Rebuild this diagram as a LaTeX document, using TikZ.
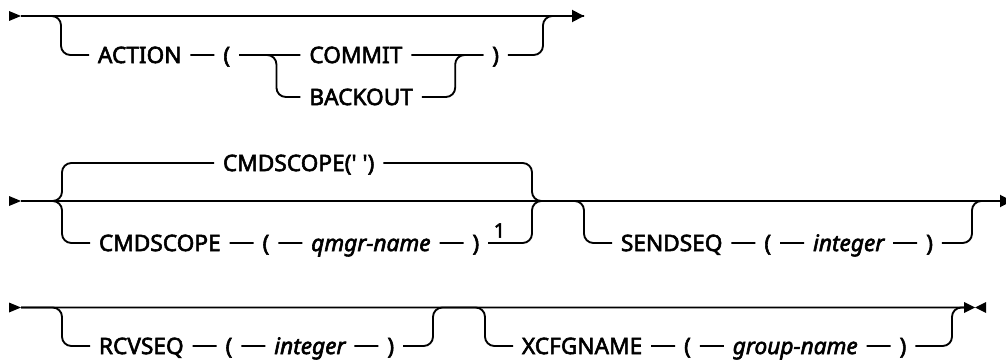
\documentclass[tikz,border=0pt]{standalone}
\usepackage{fontspec}
\setmainfont{Noto Sans}[FakeBold=2.5]
\usetikzlibrary{positioning,arrows.meta}

\tikzset{
  rail/.style={line width=1.4pt, rounded corners=7pt},
  kw/.style={inner xsep=6.5pt, inner ysep=0pt, text height=12.1pt, text depth=0pt,
    font=\fontsize{17pt}{20pt}\selectfont},
  var/.style={kw, font=\fontsize{17pt}{20pt}\selectfont\itshape},
  note/.style={inner sep=0pt, font=\fontsize{15pt}{18pt}\selectfont},
  tip/.style={-{Triangle[length=9pt, width=9pt]}}
}

\begin{document}
\begin{tikzpicture}[x=0.75pt, y=-0.75pt, node distance=18pt]
  \useasboundingbox (0,0) rectangle (1006,360);
  \foreach \y in {16,201,307.5} \fill (9,\y-5) -- (21,\y) -- (9,\y+5) -- cycle;

  % ACTION
  \coordinate (r1in) at (21,16);
  \coordinate (r1out) at (584,16);
  \coordinate (m1) at (543,16);
  \node[kw, anchor=west] (action) at (89,55) {ACTION};
  \node[kw, right=of action] (lp1) {(};
  \node[kw, right=46pt of lp1] (commit) {COMMIT};
  \node[kw, below=31.5pt of commit.west, anchor=west] (backout) {BACKOUT};
  \node[kw, right=54pt of commit] (rp1) {)};
  \coordinate[left=21pt of action] (o1);
  \coordinate[right=28pt of lp1] (s1);
  \coordinate[right=25pt of backout] (j1);
  \draw[rail, tip] (r1in) -- (r1out);
  \draw[rail] (r1in) -| (o1) -- (action);
  \draw[rail] (action) -- (lp1) -- (commit) -- (rp1) -| (m1) -- (r1out);
  \draw[rail] (lp1) -| (s1 |- backout) -- (backout);
  \draw[rail] (backout) -| (j1 |- commit) -- (rp1);

  % CMDSCOPE, SENDSEQ
  \coordinate (r2in) at (21,201);
  \coordinate (r2out) at (1012,201);
  \coordinate (m2) at (532,201);
  \coordinate (k2) at (548,201);
  \coordinate (m3) at (972,201);
  \node[kw, anchor=west] (cmddef) at (214,163) {CMDSCOPE(\textquotesingle{} \textquotesingle)};
  \node[kw, anchor=west] (cmd) at (90,243) {CMDSCOPE};
  \node[kw, right=of cmd] (lp2) {(};
  \node[var, right=of lp2] (qmgr) {qmgr-name};
  \node[kw, right=of qmgr] (rp2) {)};
  \node[note, anchor=base west] (fn1) at ([xshift=4pt, yshift=4pt]rp2.east) {1};
  \coordinate[left=21pt of cmd] (o2);
  \draw[rail, tip] (r2in) -- (r2out);
  \draw[rail] (r2in) -| (o2 |- cmddef) -- (cmddef);
  \draw[rail] (r2in) -| (o2) -- (cmd);
  \draw[rail] (cmddef) -| (m2) -- (k2);
  \draw[rail] (cmd) -- (lp2) -- (qmgr) -- (rp2) -| (m2) -- (k2);

  \node[kw, anchor=west] (sendseq) at (612,243) {SENDSEQ};
  \node[kw, right=of sendseq] (lp3) {(};
  \node[var, right=of lp3] (int1) {integer};
  \node[kw, right=of int1] (rp3) {)};
  \coordinate[left=21pt of sendseq] (o3);
  \draw[rail] (k2) -| (o3) -- (sendseq);
  \draw[rail] (sendseq) -- (lp3) -- (int1) -- (rp3) -| (m3) -- (r2out);

  % RCVSEQ, XCFGNAME
  \coordinate (r3in) at (21,307.5);
  \coordinate (r3out) at (964,307.5);
  \coordinate (m4) at (433,307.5);
  \coordinate (m5) at (952,307.5);
  \node[kw, anchor=west] (rcvseq) at (90,346) {RCVSEQ};
  \node[kw, right=of rcvseq] (lp4) {(};
  \node[var, right=of lp4] (int2) {integer};
  \node[kw, right=of int2] (rp4) {)};
  \coordinate[left=21pt of rcvseq] (o4);
  \node[kw, anchor=west] (xcfg) at (513,346) {XCFGNAME};
  \node[kw, right=of xcfg] (lp5) {(};
  \node[var, right=of lp5] (grp) {group-name};
  \node[kw, right=of grp] (rp5) {)};
  \coordinate[left=21pt of xcfg] (o5);
  \draw[rail] (r3in) -- (r3out);
  \draw[rail] (r3in) -| (o4) -- (rcvseq);
  \draw[rail] (rcvseq) -- (lp4) -- (int2) -- (rp4) -| (m4) -- (r3out);
  \draw[rail] (r3in) -| (o5) -- (xcfg);
  \draw[rail] (xcfg) -- (lp5) -- (grp) -- (rp5) -| (m5) -- (r3out);
  \fill (964,302) -- (975,307.5) -- (964,313) -- cycle;
  \fill (986,302) -- (975,307.5) -- (986,313) -- cycle;
\end{tikzpicture}
\end{document}
